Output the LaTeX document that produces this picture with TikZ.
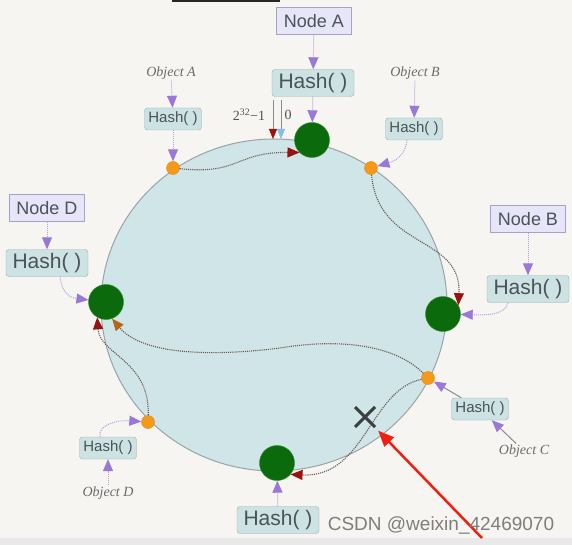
\documentclass[tikz,border=0pt]{standalone}
\usepackage{fontspec}
\setmainfont{Liberation Sans}
\newfontfamily\objfont{Liberation Serif}
\usetikzlibrary{arrows.meta,shapes.misc}
\definecolor{bgpaper}{HTML}{F6F5F1}
\definecolor{stripgray}{HTML}{E9E9E9}
\definecolor{lavefill}{HTML}{E7E5F8}
\definecolor{laveline}{HTML}{A6A2C6}
\definecolor{hashfill}{HTML}{CDE3E3}
\definecolor{hashline}{HTML}{98B0B0}
\definecolor{inkgray}{HTML}{4A5358}
\definecolor{objgray}{HTML}{6A6A6A}
\definecolor{purpletip}{HTML}{9A78D8}
\definecolor{greenfill}{HTML}{0B6A0B}
\definecolor{greenline}{HTML}{2E8B2E}
\definecolor{orangefill}{HTML}{F4991A}
\definecolor{orangeline}{HTML}{E08A10}
\definecolor{ringfill}{HTML}{CFE5E8}
\definecolor{ringline}{HTML}{9AA4A6}
\definecolor{walkline}{HTML}{6B5A50}
\definecolor{tipred}{HTML}{9B1010}
\definecolor{tipbrown}{HTML}{B5651D}
\definecolor{tipblue}{HTML}{86BFE6}
\definecolor{linegray}{HTML}{8A8A8A}
\definecolor{crossgray}{HTML}{3A3F42}
\definecolor{redmark}{HTML}{F02010}
\definecolor{markgray}{HTML}{7E7E7E}

\begin{document}
\begin{tikzpicture}[x=1pt,y=-1pt,
  server/.style={draw=laveline,fill=lavefill,text=inkgray,font=\fontsize{18}{20}\selectfont,minimum width=75pt,minimum height=27pt,inner sep=0pt},
  hashbig/.style={draw=hashline,fill=hashfill,rounded corners=3pt,text=inkgray,font=\fontsize{21}{23}\selectfont,minimum width=82pt,minimum height=27pt,inner sep=0pt},
  hashsmall/.style={hashbig,font=\fontsize{15}{17}\selectfont,minimum width=57pt,minimum height=22pt},
  objtext/.style={text=objgray,font=\objfont\itshape\fontsize{14}{16}\selectfont,inner sep=1pt},
  slot/.style={circle,draw=greenline,fill=greenfill,minimum size=35pt,inner sep=0pt},
  hashpt/.style={circle,draw=orangeline,fill=orangefill,minimum size=13pt,inner sep=0pt},
  feed/.style={draw=purpletip!70,densely dotted,line width=1pt,-{Triangle[length=12pt,width=10pt,color=purpletip]}},
  walk/.style={draw=walkline,densely dotted,line width=1.1pt,-{Triangle[length=12pt,width=10pt,color=tipred]}}]
\fill[bgpaper] (0,0) rectangle (572,545);
\fill[stripgray] (0,538) rectangle (572,545);
\fill[black!85] (172,0) rectangle (280,2);
\useasboundingbox (0,0) rectangle (572,545);
\draw[draw=ringline,fill=ringfill,line width=1pt] (274,305) ellipse[x radius=173,y radius=166];

\node[server] (nodeA) at (314,21) {Node A};
\node[hashbig] (hashA) at (313,83) {Hash( )};
\node[slot] (gA) at (312,140) {};
\node[server] (nodeB) at (528,219) {Node B};
\node[hashbig] (hashB) at (528,289) {Hash( )};
\node[slot] (gB) at (443,314) {};
\node[server] (nodeD) at (47,208) {Node D};
\node[hashbig] (hashD) at (47,263) {Hash( )};
\node[slot] (gD) at (106,302) {};
\node[hashbig] (hashC) at (278,520) {Hash( )};
\node[slot] (gC) at (277,463) {};

\node[objtext] (objA) at (171,73) {Object A};
\node[hashsmall] (hkA) at (173,119) {Hash( )};
\node[hashpt] (kA) at (173,168) {};
\node[objtext] (objB) at (415,73) {Object B};
\node[hashsmall] (hkB) at (414,129) {Hash( )};
\node[hashpt] (kB) at (371,168) {};
\node[objtext] (objC) at (524,451) {Object C};
\node[hashsmall] (hkC) at (480,409) {Hash( )};
\node[hashpt] (kC) at (428,378) {};
\node[objtext] (objD) at (108,493) {Object D};
\node[hashsmall] (hkD) at (108,448) {Hash( )};
\node[hashpt] (kD) at (148,422) {};

\node[objtext,text=inkgray,font=\objfont\fontsize{14}{16}\selectfont] (maxLbl) at (249,115) {2\textsuperscript{32}−1};
\node[objtext,text=inkgray,font=\objfont\fontsize{14}{16}\selectfont] (zeroLbl) at (288,115) {0};
\coordinate (maxTop) at (273,100);
\coordinate (maxEnd) at (273,139);
\coordinate (zeroTop) at (281,100);
\coordinate (zeroEnd) at (281,139);
\draw[draw=linegray,-{Triangle[length=10pt,width=8pt,color=tipred]}] (maxTop) -- (maxEnd);
\draw[draw=linegray,-{Triangle[length=10pt,width=8pt,color=tipblue]}] (zeroTop) -- (zeroEnd);

\draw[feed] (nodeA) -- (hashA);
\draw[feed] (hashA) -- (gA);
\draw[feed] (nodeB) -- (hashB);
\draw[feed] ([xshift=-20pt]hashB.south) .. controls (505,316) and (485,315) .. (gB);
\draw[feed] (nodeD) -- (hashD);
\draw[feed] ([xshift=13pt]hashD.south) .. controls (62,295) and (72,298) .. (gD);
\draw[feed] (hashC) -- (gC);
\draw[feed] (objA) -- (hkA);
\draw[feed] (hkA) -- (kA);
\draw[feed] (objB) -- (hkB);
\draw[feed] ([xshift=-7pt]hkB.south) .. controls (405,156) and (395,161) .. (kB);
\draw[feed,solid,draw=linegray] (objC) -- (hkC);
\draw[feed,solid,draw=linegray] (hkC) -- (kC);
\draw[feed] (objD) -- (hkD);
\draw[feed] ([xshift=-8pt]hkD.north) .. controls (98,424) and (118,420) .. (kD);

\draw[walk] (kA) .. controls (240,175) and (235,152) .. (gA.south west);
\draw[walk] (kB) .. controls (378,250) and (462,235) .. (gB.30);
\draw[walk,-{Triangle[length=12pt,width=10pt,color=tipbrown]}] (kC) .. controls (395,345) and (340,338) .. (280,348) .. controls (200,358) and (140,352) .. (gD.-70);
\draw[walk] (kD) .. controls (150,360) and (100,355) .. (gD.-120);
\draw[walk] (kC) .. controls (370,390) and (365,478) .. (gC.-40);

\node[cross out,draw=crossgray,line width=3pt,minimum size=17pt,inner sep=0pt] (cut) at (365,417) {};
\coordinate (redTail) at (482,538);
\draw[draw=redmark,line width=2.5pt,shorten >=5pt,-{Triangle[length=16pt,width=13pt]}] (redTail) -- (cut);

\node[text=markgray,font=\fontsize{19}{21}\selectfont] (mark) at (441,525) {CSDN @weixin\_42469070};
\end{tikzpicture}
\end{document}
